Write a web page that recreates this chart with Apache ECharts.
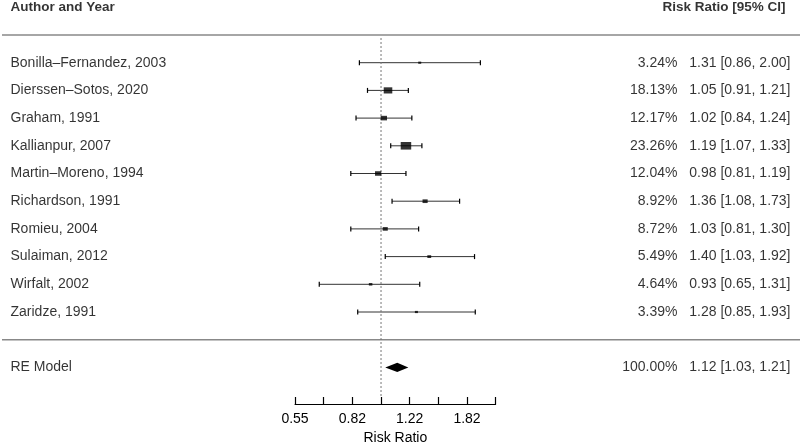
<!DOCTYPE html>
<html>
<head>
<meta charset="utf-8">
<script src="https://cdn.jsdelivr.net/npm/echarts@6/dist/echarts.min.js"></script>
<style>
  html, body { margin: 0; padding: 0; background: #fff; }
  #main { width: 800px; height: 444px; }
</style>
</head>
<body>
<div id="main"></div>
<script>
// study data
var studies = ['Bonilla\u2013Fernandez, 2003', 'Dierssen\u2013Sotos, 2020', 'Graham, 1991', 'Kallianpur, 2007',
  'Martin\u2013Moreno, 1994', 'Richardson, 1991', 'Romieu, 2004', 'Sulaiman, 2012', 'Wirfalt, 2002', 'Zaridze, 1991'];
var rr = [1.31, 1.05, 1.02, 1.19, 0.98, 1.36, 1.03, 1.40, 0.93, 1.28];
var lower = [0.86, 0.91, 0.84, 1.07, 0.81, 1.08, 0.81, 1.03, 0.65, 0.85];
var upper = [2.00, 1.21, 1.24, 1.33, 1.19, 1.73, 1.30, 1.92, 1.31, 1.93];
var weights = [3.24, 18.13, 12.17, 23.26, 12.04, 8.92, 8.72, 5.49, 4.64, 3.39];
// pooled random effects model: [estimate, lower, upper, weight]
var pooled = [1.12, 1.03, 1.21, 100.00];
// axis ticks on log scale
var logTicks = [-0.6, -0.4, -0.2, 0, 0.2, 0.4, 0.6, 0.8];

var ROW = 27.7;        // px per row
var TOP_LINE = 35;     // y of top separator (row -1)
var AXIS_Y = 404;      // y of x axis line
var H = 444;
function rowAt(px) { return -1 + (px - TOP_LINE) / ROW; }

var FONT = '"Liberation Sans", Arial, Helvetica, sans-serif';
var FS = 14;

var wmin = Math.min.apply(null, weights), wmax = Math.max.apply(null, weights);
function boxSize(w) {
  var s = 3 + (w - wmin) / (wmax - wmin) * 7.5;
  return [s, s * 0.72];
}

var ciData = studies.map(function (s, i) {
  return [Math.log(lower[i]), Math.log(upper[i]), i, Math.log(rr[i])];
});
var boxData = studies.map(function (s, i) {
  return { value: [Math.log(rr[i]), i], symbolSize: boxSize(weights[i]) };
});
var reRow = studies.length + 1;

function fmt(v) { return v.toFixed(2); }
var leftText = studies.map(function (s, i) { return { value: [10, i], name: s }; });
leftText.push({ value: [10, reRow], name: 'RE Model' });
var pctText = weights.map(function (w, i) { return { value: [678, i], name: fmt(w) + '%' }; });
pctText.push({ value: [678, reRow], name: fmt(pooled[3]) + '%' });
var ciText = rr.map(function (v, i) {
  return { value: [791, i], name: fmt(v) + ' [' + fmt(lower[i]) + ', ' + fmt(upper[i]) + ']' };
});
ciText.push({ value: [791, reRow], name: fmt(pooled[0]) + ' [' + fmt(pooled[1]) + ', ' + fmt(pooled[2]) + ']' });

function textSeries(data, side, bold) {
  return {
    type: 'scatter', xAxisIndex: 1, yAxisIndex: 1, data: data,
    symbolSize: 1, itemStyle: { color: 'rgba(0,0,0,0)' }, silent: true,
    label: {
      show: true, position: side, distance: 0, formatter: '{b}',
      color: '#000', fontFamily: FONT, fontSize: bold ? 13.5 : FS, fontWeight: bold ? 'bold' : 'normal'
    }
  };
}

var chart = echarts.init(document.getElementById('main'));
chart.setOption({
  animation: false,
  backgroundColor: '#fff',
  grid: [
    { left: 295, right: 800 - 495.7, top: 0, height: AXIS_Y, outerBoundsMode: 'none', containLabel: false },
    { left: 0, right: 0, top: 0, height: H, outerBoundsMode: 'none', containLabel: false }
  ],
  xAxis: [
    {
      type: 'value', min: logTicks[0], max: logTicks[logTicks.length - 1], interval: 0.2,
      splitLine: { show: false },
      axisLine: { show: true, onZero: false, lineStyle: { color: '#000', width: 1 } },
      axisTick: { show: true, inside: true, length: 7, lineStyle: { color: '#000', width: 1.2 } },
      axisLabel: {
        margin: 8, color: '#000', fontFamily: FONT, fontSize: FS,
        formatter: function (v) {
          var k = Math.round((v - logTicks[0]) / 0.2);
          return k % 2 === 0 ? Math.exp(v).toFixed(2) : '';
        }
      },
      name: 'Risk Ratio', nameLocation: 'middle', nameGap: 27,
      nameTextStyle: { color: '#000', fontFamily: FONT, fontSize: FS }
    },
    { type: 'value', gridIndex: 1, min: 0, max: 800, show: false }
  ],
  yAxis: [
    { type: 'value', inverse: true, min: rowAt(0), max: rowAt(AXIS_Y), show: false },
    { type: 'value', gridIndex: 1, inverse: true, min: rowAt(0), max: rowAt(H), show: false }
  ],
  series: [
    // separators
    {
      type: 'line', xAxisIndex: 1, yAxisIndex: 1, symbol: 'none', silent: true,
      data: [[2, -1], [800, -1]], lineStyle: { color: '#888', width: 1.5 }
    },
    {
      type: 'line', xAxisIndex: 1, yAxisIndex: 1, symbol: 'none', silent: true,
      data: [[2, studies.length], [800, studies.length]], lineStyle: { color: '#888', width: 1.5 }
    },
    // reference line at RR = 1
    {
      type: 'line', symbol: 'none', silent: true,
      data: [[0, rowAt(38)], [0, rowAt(398)]],
      lineStyle: { color: '#777', width: 1, type: [2, 2] }
    },
    // confidence intervals
    {
      type: 'custom', data: ciData, encode: { x: [0, 1, 3], y: 2 }, z: 3,
      renderItem: function (params, api) {
        var a = api.coord([api.value(0), api.value(2)]);
        var b = api.coord([api.value(1), api.value(2)]);
        var cap = 2.5;
        var st = { stroke: '#333', lineWidth: 1 };
        return {
          type: 'group', children: [
            { type: 'line', shape: { x1: a[0], y1: a[1], x2: b[0], y2: b[1] }, style: st },
            { type: 'line', shape: { x1: a[0], y1: a[1] - cap, x2: a[0], y2: a[1] + cap }, style: { stroke: '#000', lineWidth: 1.2 } },
            { type: 'line', shape: { x1: b[0], y1: b[1] - cap, x2: b[0], y2: b[1] + cap }, style: { stroke: '#000', lineWidth: 1.2 } }
          ]
        };
      }
    },
    // point estimates sized by weight
    {
      type: 'scatter', data: boxData, symbol: 'rect', z: 4,
      itemStyle: { color: '#000' }, silent: true
    },
    // pooled diamond
    {
      type: 'custom', z: 4, data: [[Math.log(pooled[1]), Math.log(pooled[2]), reRow, Math.log(pooled[0])]],
      encode: { x: [0, 1, 3], y: 2 },
      renderItem: function (params, api) {
        var l = api.coord([api.value(0), api.value(2)]);
        var r = api.coord([api.value(1), api.value(2)]);
        var m = api.coord([api.value(3), api.value(2)]);
        var h = 4.6;
        return {
          type: 'polygon',
          shape: { points: [[l[0], l[1]], [m[0], m[1] - h], [r[0], r[1]], [m[0], m[1] + h]] },
          style: { fill: '#000' }
        };
      }
    },
    textSeries(leftText, 'right', false),
    textSeries(pctText, 'left', false),
    textSeries(ciText, 'left', false),
    textSeries([{ value: [10, -2], name: 'Author and Year' }], 'right', true),
    textSeries([{ value: [786, -2], name: 'Risk Ratio [95% CI]' }], 'left', true)
  ]
});
</script>
</body>
</html>
